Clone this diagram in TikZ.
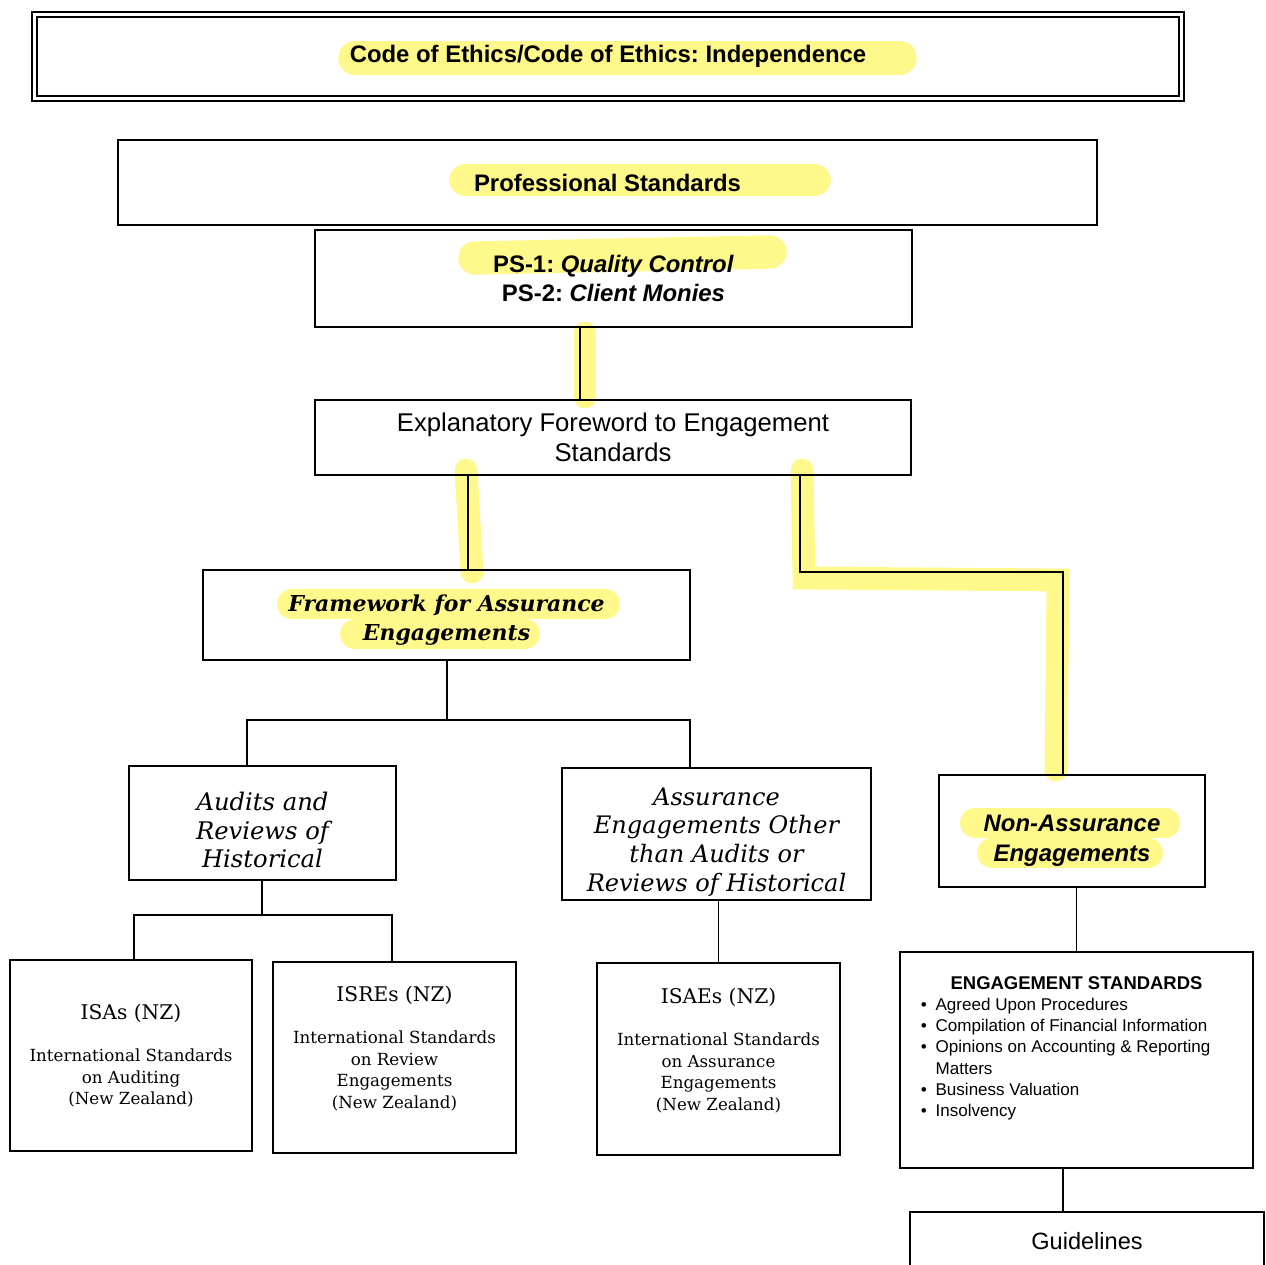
\documentclass[tikz,border=0pt]{standalone}
\usepackage{fontspec}
\setmainfont{DejaVu Serif}
\setsansfont{Liberation Sans}
\newfontfamily\arial{Liberation Sans}
\newcommand{\fs}[2]{\fontsize{#1}{#2}\selectfont}
\tikzset{
  box/.style={draw, line width=0.9pt, align=center, inner sep=0pt},
  conn/.style={line width=0.9pt},
  hl/.style={yellow!75!white, opacity=0.6, line cap=round},
}
\begin{document}
\frenchspacing
\begin{tikzpicture}[x=0.02cm, y=-0.02cm]
    \clip (0,0) rectangle (1266,1264);
    \fill [white] (0,0) rectangle (1266,1264);
    % highlighter marks
    \draw [hl, line width=19pt] (355,58) -- (900,58);
    \draw [hl, line width=18pt] (465,180) -- (815,180);
    \draw [hl, line width=19pt] (475,258) -- (770,252);
    \draw [hl, line width=12pt] (585,332) -- (585,398);
    \draw [hl, line width=13pt] (466,470) -- (472,572);
    \draw [hl, line width=13pt] (802,470) -- (804,578) -- (1058,580) -- (1056,770);
    \draw [hl, line width=17pt] (292,604) -- (605,604);
    \draw [hl, line width=17pt] (355,634) -- (525,634);
    \draw [hl, line width=17pt] (975,823) -- (1165,823);
    \draw [hl, line width=17pt] (992,853) -- (1148,853);
    % boxes
    \node [box, double, double distance=2pt, minimum width=22.94cm, minimum height=1.68cm,
      font=\arial\bfseries\fs{13.6}{16}] (code) at (608,56.5)
      {Code of Ethics/Code of Ethics: Independence};
    \node [box, minimum width=19.58cm, minimum height=1.7cm,
      font=\arial\bfseries\fs{13.6}{16}] (prof) at (607.5,182.5) {Professional Standards};
    \node [box, minimum width=11.94cm, minimum height=1.94cm,
      font=\arial\bfseries\fs{13.6}{16.5}] (ps) at (613.5,278.5)
      {PS-1: \textit{Quality Control}\\PS-2: \textit{Client Monies}};
    \node [box, minimum width=11.92cm, minimum height=1.5cm,
      font=\arial\fs{14.6}{17}] (fwd) at (613,437.5)
      {Explanatory Foreword to Engagement\\Standards};
    \node [box, minimum width=9.74cm, minimum height=1.8cm,
      font=\bfseries\itshape\fs{12.5}{16.5}] (frame) at (446.5,615)
      {\rule{0pt}{15pt}Framework for Assurance\\Engagements};
    \node [box, minimum width=5.34cm, minimum height=2.28cm,
      font=\itshape\fs{13.8}{16.4}] (audits) at (262.5,823)
      {\rule{0pt}{18.5pt}Audits and\\Reviews of\\Historical};
    \node [box, minimum width=6.18cm, minimum height=2.64cm,
      font=\itshape\fs{13.7}{16.3}] (other) at (716.5,834)
      {\rule{0pt}{19pt}Assurance\\Engagements Other\\than Audits or\\Reviews of Historical};
    \node [box, minimum width=5.32cm, minimum height=2.24cm,
      font=\arial\bfseries\itshape\fs{13.6}{17}] (nonas) at (1072,831)
      {\rule{0pt}{20pt}Non-Assurance\\Engagements};
    \node [box, minimum width=4.84cm, minimum height=3.82cm,
      font=\fs{9.5}{12.2}] (isa) at (131,1055.5)
      {{\fs{11.5}{14}ISAs (NZ)}\\[12pt]International Standards\\on Auditing\\(New Zealand)};
    \node [box, minimum width=4.86cm, minimum height=3.82cm,
      font=\fs{9.5}{12.2}] (isre) at (394.5,1057.5)
      {{\fs{11.5}{14}ISREs (NZ)}\\[12pt]International Standards\\on Review\\Engagements\\(New Zealand)\rule[-12pt]{0pt}{0pt}};
    \node [box, minimum width=4.86cm, minimum height=3.84cm,
      font=\fs{9.5}{12.2}] (isae) at (718.5,1059)
      {{\fs{11.5}{14}ISAEs (NZ)}\\[12pt]International Standards\\on Assurance\\Engagements\\(New Zealand)\rule[-11.5pt]{0pt}{0pt}};
    \node [box, minimum width=7.06cm, minimum height=4.32cm,
      font=\arial\fs{9.7}{12.1}] (engst) at (1076.5,1060)
      {\begin{tabular}{@{}l@{\hspace{5pt}}l@{\hspace{12.4pt}}}
        \multicolumn{2}{@{}c@{}}{\fs{10.5}{12}\bfseries ENGAGEMENT STANDARDS}\\
        \textbullet & Agreed Upon Procedures\\
        \textbullet & Compilation of Financial Information\\
        \textbullet & Opinions on Accounting \& Reporting\\
                    & Matters\\
        \textbullet & Business Valuation\\
        \textbullet & Insolvency\\[13pt]
      \end{tabular}};
    \node [box, minimum width=7.08cm, minimum height=1.56cm, text height=9.7pt, text depth=11.3pt,
      font=\arial\fs{13.4}{16}] (guide) at (1087,1251) {Guidelines};
    % connectors
    \coordinate (xa) at (580,0);
    \coordinate (xb) at (468,0);
    \coordinate (bend) at (800,572);
    \coordinate (split1) at (447,720);
    \coordinate (split2) at (262,915);
    \coordinate (xg) at (1063,0);
    \draw [conn] (ps.south -| xa) -- (fwd.north -| xa);
    \draw [conn] (fwd.south -| xb) -- (frame.north -| xb);
    \draw [conn] (fwd.south -| bend) -- (bend) -| ([xshift=-0.18cm]nonas.north);
    \draw [conn] (frame.south -| split1) -- (split1);
    \draw [conn] ([xshift=-0.31cm]audits.north) |- (split1) -| ([xshift=-0.53cm]other.north);
    \draw [conn] (audits.south -| split2) -- (split2);
    \draw [conn] ([xshift=0.06cm]isa.north) |- (split2) -| ([xshift=-0.05cm]isre.north);
    \draw [conn] (other.south -| isae.north) -- (isae.north);
    \draw [conn] (engst.north |- nonas.south) -- (engst.north);
    \draw [conn] (engst.south -| xg) -- (guide.north -| xg);
\end{tikzpicture}
\end{document}
